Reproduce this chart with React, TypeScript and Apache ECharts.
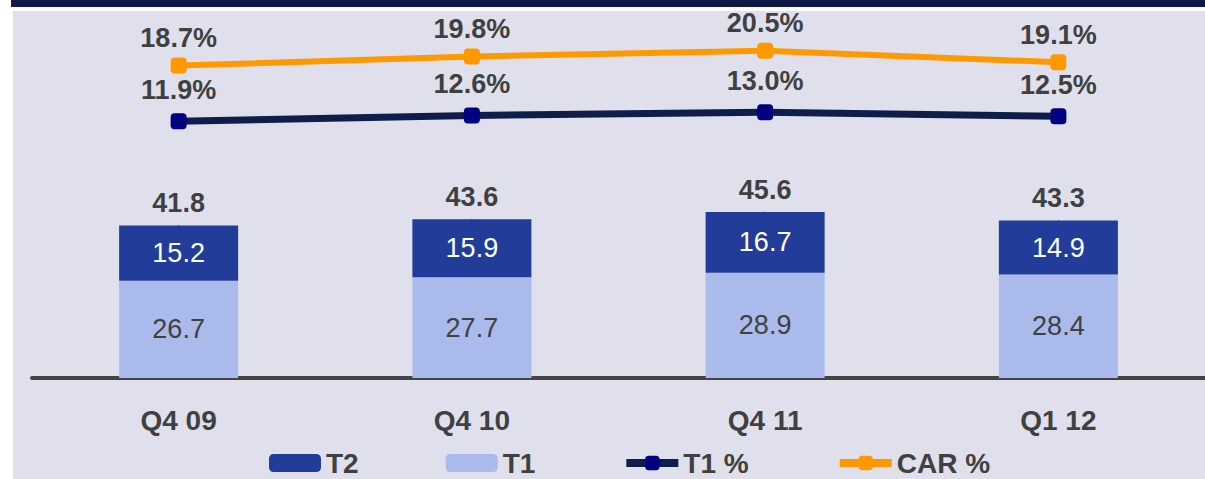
import React, { useEffect, useRef } from "react";
import * as echarts from "echarts";

const categories = ["Q4 09", "Q4 10", "Q4 11", "Q1 12"];
const t1Values = [26.7, 27.7, 28.9, 28.4];
const t2Values = [15.2, 15.9, 16.7, 14.9];
const totalLabels = [41.8, 43.6, 45.6, 43.3];
const t1Pct = [11.9, 12.6, 13.0, 12.5];
const carPct = [18.7, 19.8, 20.5, 19.1];

const FONT = "'Liberation Sans', Arial, sans-serif";
const GRAY = "#404040";
const NAVY_LINE = "#0f1d4b";
const NAVY_MARK = "#000080";
const ORANGE = "#ff9900";

export default function App() {
  const ref = useRef<HTMLDivElement>(null);
  useEffect(() => {
    document.body.style.margin = "0";
    if (!ref.current) return;
    const chart = echarts.init(ref.current, null, { renderer: "svg" });
    chart.setOption({
      animation: false,
      backgroundColor: "#ffffff",
      textStyle: { fontFamily: FONT },
      graphic: [
        { type: "rect", z: -10, shape: { x: 11, y: 0, width: 1194, height: 7 }, style: { fill: "#0e1a45" } },
        { type: "rect", z: -10, shape: { x: 13, y: 11, width: 1192, height: 468 }, style: { fill: "#dfe0ec" } },
      ],
      grid: { left: 32, right: 0, top: 14, bottom: 101, containLabel: false },
      legend: {
        left: 264,
        top: 444,
        itemWidth: 52,
        itemHeight: 18,
        itemGap: 87,
        data: [
          { name: "T2" },
          { name: "T1" },
          { name: "T1 %", lineStyle: { width: 8, color: NAVY_LINE }, itemStyle: { color: NAVY_MARK } },
          { name: "CAR %", lineStyle: { width: 8, color: ORANGE }, itemStyle: { color: ORANGE } },
        ],
        textStyle: { fontFamily: FONT, fontSize: 28, fontWeight: "bold", color: GRAY },
      },
      xAxis: {
        type: "category",
        data: categories,
        axisLine: { lineStyle: { color: "#444444", width: 4 } },
        axisTick: { show: false },
        axisLabel: { margin: 28, fontFamily: FONT, fontSize: 28, fontWeight: "bold", color: GRAY },
      },
      yAxis: [
        { type: "value", min: 0, max: 100, show: false, splitLine: { show: false } },
        { type: "value", min: -19.5, max: 25, show: false, splitLine: { show: false } },
      ],
      series: [
        {
          name: "T1",
          type: "bar",
          stack: "cap",
          barWidth: 119,
          data: t1Values,
          itemStyle: { color: "#a9baeb" },
          z: 3,
          label: { show: true, position: "inside", fontFamily: FONT, fontSize: 27, color: GRAY, formatter: (p: any) => p.value.toFixed(1) },
        },
        {
          name: "T2",
          type: "bar",
          stack: "cap",
          barWidth: 119,
          data: t2Values,
          itemStyle: { color: "#213d99" },
          z: 3,
          label: { show: true, position: "inside", fontFamily: FONT, fontSize: 27, color: "#ffffff", formatter: (p: any) => p.value.toFixed(1) },
        },
        {
          name: "Total",
          type: "scatter",
          data: t1Values.map((v, i) => v + t2Values[i]),
          symbolSize: 1,
          itemStyle: { color: "#213d99", opacity: 1 },
          silent: true,
          z: 1,
          label: {
            show: true,
            position: "top",
            distance: 8,
            fontFamily: FONT,
            fontSize: 27,
            fontWeight: "bold",
            color: GRAY,
            opacity: 1,
            formatter: (p: any) => totalLabels[p.dataIndex].toFixed(1),
          },
        },
        {
          name: "T1 %",
          type: "line",
          yAxisIndex: 1,
          data: t1Pct,
          symbol: "roundRect",
          symbolSize: 16,
          lineStyle: { color: NAVY_LINE, width: 7 },
          itemStyle: { color: NAVY_MARK },
          z: 5,
          label: {
            show: true,
            position: "top",
            distance: 10,
            fontFamily: FONT,
            fontSize: 27,
            fontWeight: "bold",
            color: GRAY,
            formatter: (p: any) => p.value.toFixed(1) + "%",
          },
        },
        {
          name: "CAR %",
          type: "line",
          yAxisIndex: 1,
          data: carPct,
          symbol: "roundRect",
          symbolSize: 16,
          lineStyle: { color: ORANGE, width: 6 },
          itemStyle: { color: ORANGE },
          z: 5,
          label: {
            show: true,
            position: "top",
            distance: 6,
            fontFamily: FONT,
            fontSize: 27,
            fontWeight: "bold",
            color: GRAY,
            formatter: (p: any) => p.value.toFixed(1) + "%",
          },
        },
      ],
    });
    return () => chart.dispose();
  }, []);
  return <div ref={ref} style={{ width: 1205, height: 479 }} />;
}
